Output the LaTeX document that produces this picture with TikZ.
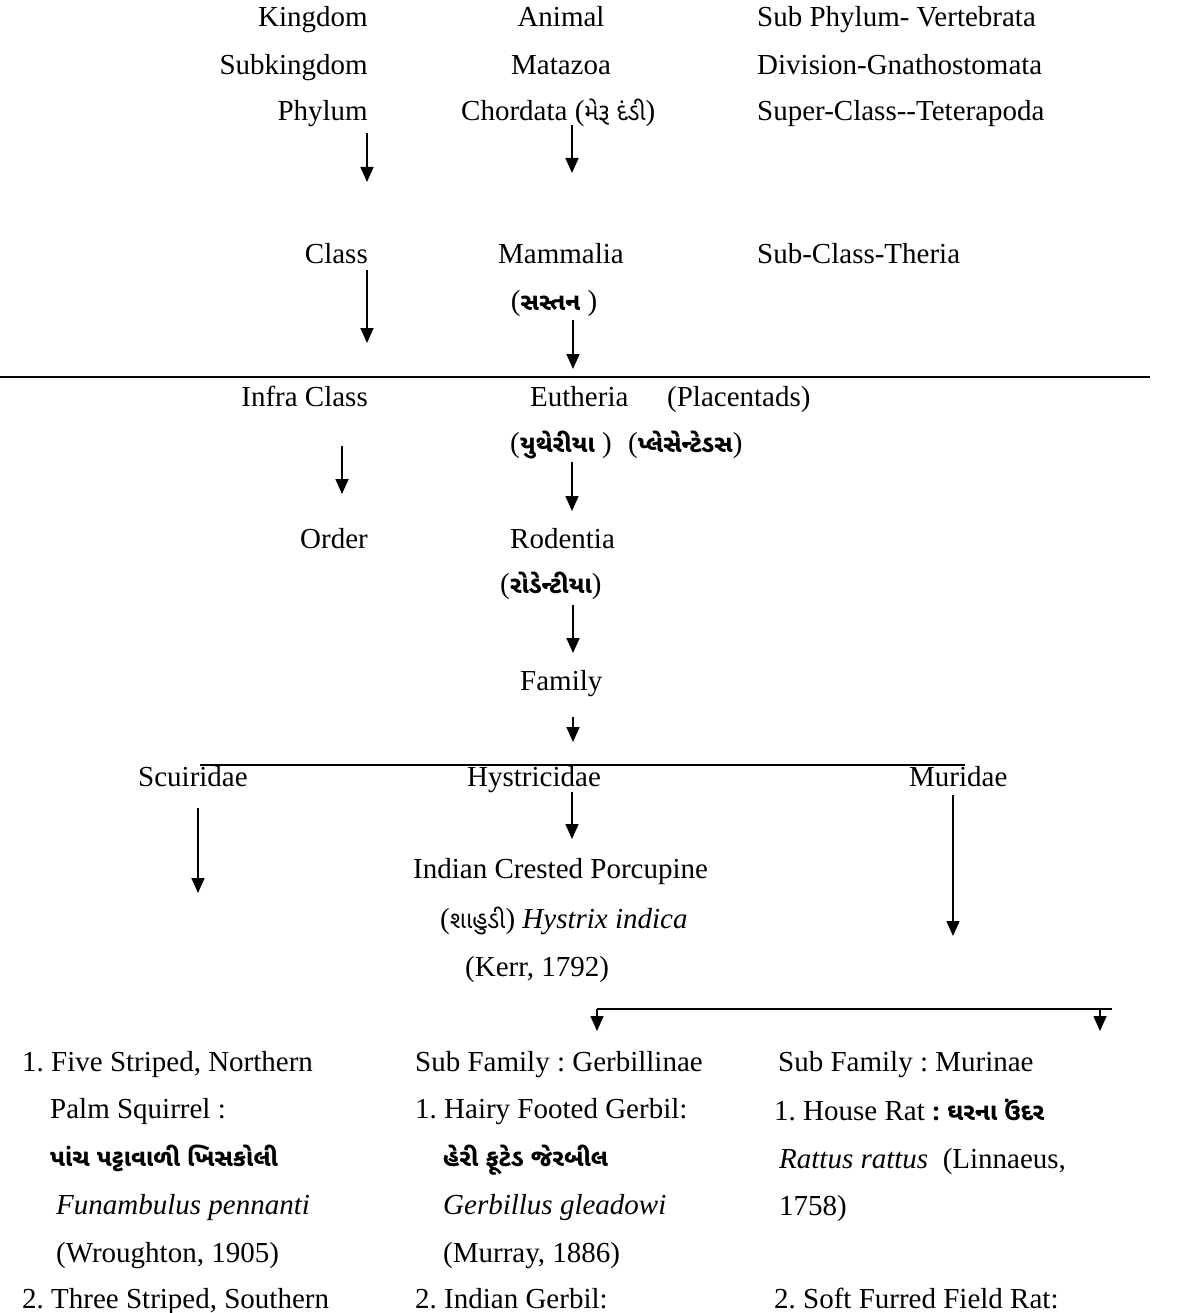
\documentclass[tikz,border=0pt]{standalone}
\usepackage{fontspec}
\setmainfont{Liberation Serif}
\newfontfamily\guj[Script=Gujarati]{Noto Sans Gujarati UI}
\usetikzlibrary{arrows.meta}
\newcommand\gu[1]{{\guj\fontsize{24}{30}\selectfont #1}}
\newcommand\gub[1]{{\guj\bfseries\fontsize{24}{30}\selectfont #1}}
\frenchspacing
\begin{document}
\begin{tikzpicture}[x=1pt,y=-1pt,
  txt/.style={inner sep=0pt, font=\fontsize{29}{35}\selectfont},
  arr/.style={line width=1.7pt, -{Triangle[length=15pt,width=13pt]}},
  ln/.style={line width=1.7pt}]
\useasboundingbox (0,0) rectangle (1189,1313);
% top rows
\node[txt, anchor=base east] (kingdom) at (368,27) {Kingdom};
\node[txt, anchor=base] (animal) at (561,27) {Animal};
\node[txt, anchor=base west] (subphy) at (757,27) {Sub Phylum- Vertebrata};
\node[txt, anchor=base east] (subking) at (368,75) {Subkingdom};
\node[txt, anchor=base] (matazoa) at (561,75) {Matazoa};
\node[txt, anchor=base west] (division) at (757,75) {Division-Gnathostomata};
\node[txt, anchor=base east] (phylum) at (368,121) {Phylum};
\node[txt, anchor=base west] (chordata) at (461,121) {Chordata (\gu{મેરૂ દંડી})};
\node[txt, anchor=base west] (superclass) at (757,121) {Super-Class{-}{-}Teterapoda};
% class row
\node[txt, anchor=base east] (class) at (368,264) {Class};
\node[txt, anchor=base] (mammalia) at (561,264) {Mammalia};
\node[txt, anchor=base west] (subclass) at (757,264) {Sub-Class-Theria};
\node[txt, anchor=base] (mammg) at (554,310) {(\gub{સસ્તન} )};
% arrows top
\coordinate (p1) at (367,133); \coordinate (p2) at (367,182);
\coordinate (c1) at (572,125); \coordinate (c2) at (572,173);
\draw[arr] (p1) -- (p2);
\draw[arr] (c1) -- (c2);
\coordinate (k1) at (367,270); \coordinate (k2) at (367,343);
\coordinate (m1) at (573,320); \coordinate (m2) at (573,369);
\draw[arr] (k1) -- (k2);
\draw[arr] (m1) -- (m2);
% separator
\coordinate (hl) at (0,377); \coordinate (hr) at (1150,377);
\draw[ln] (hl) -- (hr);
% infra class
\node[txt, anchor=base east] (infra) at (368,406) {Infra Class};
\node[txt, anchor=base west] (eutheria) at (530,406) {Eutheria};
\node[txt, anchor=base west] (placentads) at (667,406) {(Placentads)};
\node[txt, anchor=base west] (euthg) at (510,452) {(\gub{યુથેરીયા} )};
\node[txt, anchor=base west] (placg) at (628,452) {(\gub{પ્લેસેન્ટેડસ})};
\coordinate (i1) at (342,446); \coordinate (i2) at (342,494);
\coordinate (e1) at (572,462); \coordinate (e2) at (572,511);
\draw[arr] (i1) -- (i2);
\draw[arr] (e1) -- (e2);
% order
\node[txt, anchor=base east] (order) at (368,548) {Order};
\node[txt, anchor=base west] (rodentia) at (510,548) {Rodentia};
\node[txt, anchor=base west] (rodg) at (500,593) {(\gub{રોડેન્ટીયા})};
\coordinate (r1) at (573,605); \coordinate (r2) at (573,653);
\draw[arr] (r1) -- (r2);
\node[txt, anchor=base west] (family) at (520,690) {Family};
\coordinate (f1) at (573,717); \coordinate (f2) at (573,742);
\draw[arr] (f1) -- (f2);
% families
\coordinate (fl) at (200,765); \coordinate (fr) at (965,765);
\draw[ln] (fl) -- (fr);
\node[txt, anchor=base west] (scuiridae) at (138,786) {Scuiridae};
\node[txt, anchor=base west] (hystricidae) at (467,786) {Hystricidae};
\node[txt, anchor=base west] (muridae) at (909,786) {Muridae};
\coordinate (s1) at (198,808); \coordinate (s2) at (198,893);
\coordinate (h1) at (572,792); \coordinate (h2) at (572,839);
\coordinate (u1) at (953,795); \coordinate (u2) at (953,936);
\draw[arr] (s1) -- (s2);
\draw[arr] (h1) -- (h2);
\draw[arr] (u1) -- (u2);
% porcupine
\node[txt, anchor=base west] (porc) at (413,878) {Indian Crested Porcupine};
\node[txt, anchor=base west] (hystrix) at (440,928) {(\gu{શાહુડી}) \textit{Hystrix indica}};
\node[txt, anchor=base west] (kerr) at (465,976) {(Kerr, 1792)};
% subfamily bracket
\coordinate (bl) at (597,1009); \coordinate (br) at (1112,1009);
\coordinate (bra) at (1100,1009);
\coordinate (g2) at (597,1031); \coordinate (mu2) at (1100,1031);
\draw[ln] (bl) -- (br);
\draw[arr] (bl) -- (g2);
\draw[arr] (bra) -- (mu2);
% left column
\node[txt, anchor=base west] (l1) at (22,1071) {1. Five Striped, Northern};
\node[txt, anchor=base west] (l2) at (50,1118) {Palm Squirrel :};
\node[txt, anchor=base west] (l3) at (50,1166) {\gub{પાંચ પટ્ટાવાળી ખિસકોલી}};
\node[txt, anchor=base west] (l4) at (56,1214) {\textit{Funambulus pennanti}};
\node[txt, anchor=base west] (l5) at (56,1262) {(Wroughton, 1905)};
\node[txt, anchor=base west] (l6) at (22,1308) {2. Three Striped, Southern};
% middle column
\node[txt, anchor=base west] (m1t) at (415,1071) {Sub Family : Gerbillinae};
\node[txt, anchor=base west] (m2t) at (415,1118) {1. Hairy Footed Gerbil:};
\node[txt, anchor=base west] (m3t) at (443,1166) {\gub{હેરી ફૂટેડ જેરબીલ}};
\node[txt, anchor=base west] (m4t) at (443,1214) {\textit{Gerbillus gleadowi}};
\node[txt, anchor=base west] (m5t) at (443,1262) {(Murray, 1886)};
\node[txt, anchor=base west] (m6t) at (415,1308) {2. Indian Gerbil:};
% right column
\node[txt, anchor=base west] (r1t) at (778,1071) {Sub Family : Murinae};
\node[txt, anchor=base west] (r2t) at (774,1120) {1. House Rat \gub{: ઘરના ઉંદર}};
\node[txt, anchor=base west] (r3t) at (779,1168) {\textit{Rattus rattus}\ \ (Linnaeus,};
\node[txt, anchor=base west] (r4t) at (779,1215) {1758)};
\node[txt, anchor=base west] (r6t) at (774,1308) {2. Soft Furred Field Rat:};
\end{tikzpicture}
\end{document}
